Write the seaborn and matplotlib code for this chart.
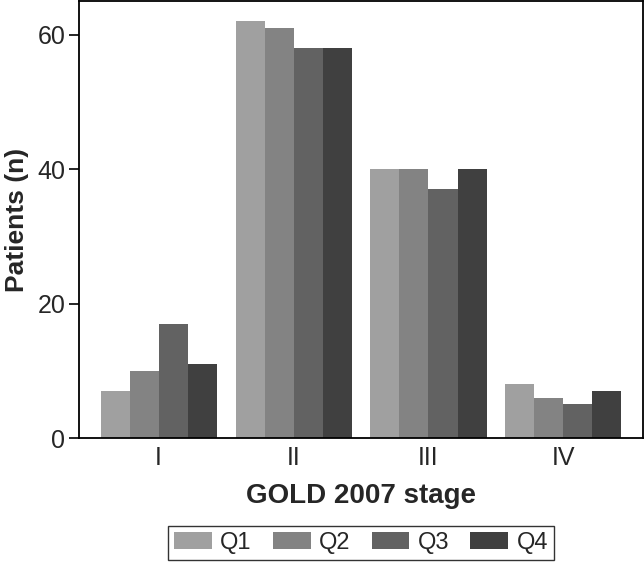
import matplotlib
matplotlib.use("Agg")
import matplotlib.pyplot as plt
import pandas as pd
import seaborn as sns

# data
STAGES = ["I", "II", "III", "IV"]
QUARTILES = ["Q1", "Q2", "Q3", "Q4"]
Q1 = [7, 62, 40, 8]
Q2 = [10, 61, 40, 6]
Q3 = [17, 58, 37, 5]
Q4 = [11, 58, 40, 7]
COLORS = ["#a0a0a0", "#838383", "#626262", "#404040"]

df = pd.DataFrame({
    "stage": STAGES * 4,
    "quartile": sum([[q] * 4 for q in QUARTILES], []),
    "patients": Q1 + Q2 + Q3 + Q4,
})

sns.set_style("ticks")
plt.rcParams["font.family"] = ["Liberation Sans", "DejaVu Sans"]

fig = plt.figure(figsize=(6.44, 5.63), dpi=100)
ax = fig.add_axes([0.1227, 0.222, 0.8758, 0.776])

sns.barplot(
    data=df, x="stage", y="patients", hue="quartile",
    order=STAGES, hue_order=QUARTILES, palette=COLORS,
    saturation=1, width=0.86, gap=0, edgecolor="none", linewidth=0,
    errorbar=None, ax=ax,
)

ax.set_xlim(-0.59, 3.59)
ax.set_ylim(0, 65)
ax.set_yticks([0, 20, 40, 60])
ax.tick_params(axis="y", labelsize=18, length=7, width=1.2, color="black", pad=3)
ax.tick_params(axis="x", labelsize=18, length=0, pad=6)
ax.set_xlabel("GOLD 2007 stage", fontsize=20, fontweight="bold", labelpad=9)
ax.set_ylabel("Patients (n)", fontsize=19, fontweight="bold", labelpad=6)
for s in ax.spines.values():
    s.set_visible(True)
    s.set_color("black")
    s.set_linewidth(1.3)

handles, labels = ax.get_legend_handles_labels()
ax.get_legend().remove()
leg = fig.legend(
    handles, labels, loc="center", bbox_to_anchor=(0.5606, 0.036), ncol=4,
    fontsize=17, frameon=True, fancybox=False, edgecolor="black",
    handlelength=1.6, handleheight=0.72, columnspacing=0.9, handletextpad=0.35,
    borderpad=0.25, borderaxespad=0,
)
leg.get_frame().set_linewidth(1.0)

fig.savefig("out.png", dpi=100)
